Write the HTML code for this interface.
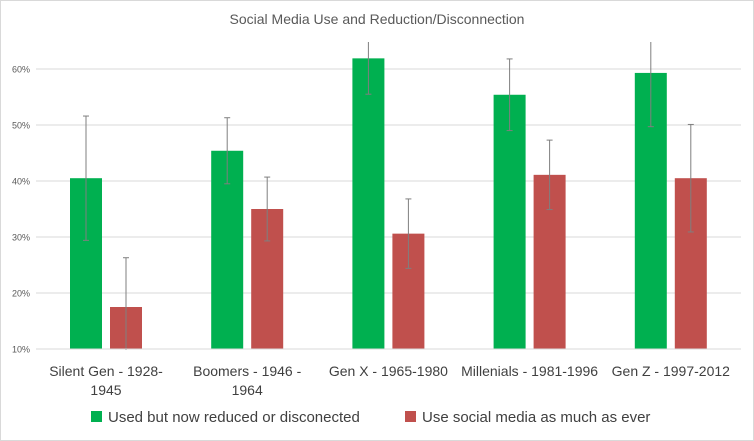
<!DOCTYPE html>
<html><head><meta charset="utf-8"><style>
body{margin:0;background:#fff;font-family:"Liberation Sans",sans-serif}
#wrap{position:relative;width:752px;height:439px;border:1px solid #d9d9d9;overflow:hidden}
</style></head><body>
<div id="wrap">
<svg id="c" width="752" height="439" xmlns="http://www.w3.org/2000/svg"></svg>
</div>
<script>
const categories=[["Silent Gen - 1928-","1945"],["Boomers - 1946 -","1964"],["Gen X - 1965-1980"],["Millenials - 1981-1996"],["Gen Z - 1997-2012"]];
const reduced=[40.5,45.4,61.9,55.4,59.3];
const reducedErr=[11.1,5.9,6.4,6.4,9.6];
const asEver=[17.5,35.0,30.6,41.1,40.5];
const asEverErr=[8.8,5.7,6.2,6.2,9.6];
const ticks=[10,20,30,40,50,60];
const svg=document.getElementById('c');const NS="http://www.w3.org/2000/svg";
function y(v){return 348-(v-10)*5.6;}
function cx(i){return 105+i*141.2;}
function mk(t,a,p){const e=document.createElementNS(NS,t);for(const k in a)e.setAttribute(k,a[k]);(p||svg).appendChild(e);return e;}
const defs=mk('defs',{});const cp=mk('clipPath',{id:'pc'},defs);mk('rect',{x:30,y:41,width:712,height:308},cp);
let t=mk('text',{x:376,y:23,'text-anchor':'middle','font-size':14,fill:'#595959'});t.textContent='Social Media Use and Reduction/Disconnection';


ticks.forEach(v=>{
 const l=mk('line',{x1:35,x2:740,y1:y(v),y2:y(v),stroke:'#d9d9d9','stroke-width':1});
 
 
 const tx=mk('text',{x:29,y:y(v)+3.5,'text-anchor':'end','font-size':9,fill:'#595959'});tx.textContent=v+'%';
 
 
});
const g=mk('g',{'clip-path':'url(#pc)'});
function bar(v,e,x,col,name){
 const r=mk('rect',{x:x-16,y:y(v),width:32,height:y(10)-y(v),fill:col},g);
 
 
 const l=mk('line',{x1:x,x2:x,y1:y(v+e),y2:y(v-e),stroke:'#7f7f7f','stroke-width':1},g);
 
 
 mk('line',{x1:x-3,x2:x+3,y1:y(v+e),y2:y(v+e),stroke:'#7f7f7f'},g);
 mk('line',{x1:x-3,x2:x+3,y1:y(v-e),y2:y(v-e),stroke:'#7f7f7f'},g);
}
categories.forEach((c,i)=>{
 bar(reduced[i],reducedErr[i],cx(i)-20,'#00b050','bar-reduced');
 bar(asEver[i],asEverErr[i],cx(i)+20,'#c0504d','bar-as-ever');
 c.forEach((s,j)=>{const tx=mk('text',{x:cx(i),y:375+j*19,'text-anchor':'middle','font-size':14,fill:'#404040'});tx.textContent=s;
 
 });
});
mk('line',{x1:35,x2:740,y1:y(10),y2:y(10),stroke:'#d9d9d9'});
const lg=[['#00b050','Used but now reduced or disconected',90],['#c0504d','Use social media as much as ever',404]];
lg.forEach(a=>{const r=mk('rect',{x:a[2],y:410,width:11,height:11,fill:a[0]});
 
 
 const tx=mk('text',{x:a[2]+17,y:421,'font-size':15,fill:'#404040'});tx.textContent=a[1];
 
 });
</script>
</body></html>
